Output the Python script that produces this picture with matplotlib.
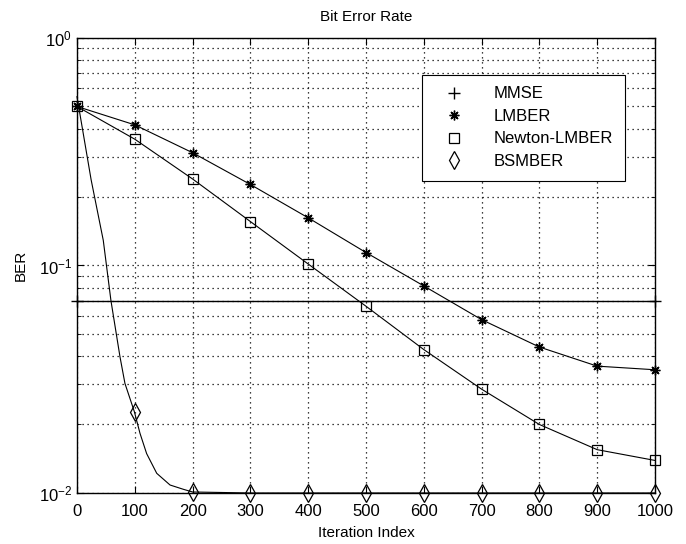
import numpy as np
import matplotlib
matplotlib.use("Agg")
from matplotlib import pyplot as plt
from matplotlib.lines import Line2D
from matplotlib.ticker import LogLocator, NullFormatter

plt.rcParams['font.family'] = ['Liberation Sans', 'DejaVu Sans']
plt.rcParams['mathtext.fontset'] = 'custom'
plt.rcParams['mathtext.rm'] = 'Liberation Sans'

# values
iters = [0, 100, 200, 300, 400, 500, 600, 700, 800, 900, 1000]
mmse_x = [0, 1000]
mmse_ber = [0.070, 0.070]
lmber_ber = [0.50, 0.415, 0.313, 0.227, 0.162, 0.114, 0.0813, 0.0578, 0.0438, 0.0361, 0.0348]
newton_ber = [0.50, 0.359, 0.240, 0.156, 0.1015, 0.0662, 0.0427, 0.0286, 0.020, 0.0155, 0.0139]
# BSMBER curve (extra points), markers only every 100
bs_x = [0, 24.5, 45.5, 58.8, 74.4, 83, 99.2, 109, 120.5, 138, 161, 184, 200,
        300, 400, 500, 600, 700, 800, 900, 1000]
bs_ber = [0.552, 0.238, 0.129, 0.070, 0.0397, 0.0303, 0.0228, 0.0183, 0.0149, 0.0122,
          0.01084, 0.01038, 0.0101, 0.0100, 0.0100, 0.0100, 0.0100, 0.0100, 0.0100,
          0.0100, 0.0100]
bs_mark_x = [100, 200, 300, 400, 500, 600, 700, 800, 900, 1000]
bs_mark_ber = [0.0228, 0.0101, 0.0100, 0.0100, 0.0100, 0.0100, 0.0100, 0.0100, 0.0100, 0.0100]

fig = plt.figure(figsize=(6.86, 5.44), dpi=100)
ax = fig.add_axes([0.1122, 0.0938, 0.8426, 0.8364])

lw = 0.8
star = (8, 2, 0)  # matlab style asterisk
mk_plus = dict(marker='+', ms=9, mew=1.0)
mk_star = dict(marker=star, ms=7, mew=1.0)
mk_sq = dict(marker='s', ms=7.5, mfc='none', mew=0.9)
mk_dia = dict(marker='d', ms=9, mfc='none', mew=0.9)

ax.plot(mmse_x, mmse_ber, 'k-', lw=1.0, clip_on=False, **mk_plus)
ax.plot(iters, lmber_ber, 'k-', lw=lw, clip_on=False, **mk_star)
ax.plot(iters, newton_ber, 'k-', lw=lw, clip_on=False, **mk_sq)
ax.plot(bs_x, bs_ber, 'k-', lw=lw, clip_on=False)
ax.plot(bs_mark_x, bs_mark_ber, 'k', ls='none', clip_on=False, **mk_dia)

ax.set_yscale('log')
ax.set_xlim(0, 1000)
ax.set_ylim(1e-2, 1e0)
ax.set_xticks(np.arange(0, 1001, 100))
ax.yaxis.set_major_locator(LogLocator(base=10))
ax.yaxis.set_minor_locator(LogLocator(base=10, subs=np.arange(2, 10)))
ax.yaxis.set_minor_formatter(NullFormatter())

dots = (0, (1, 3))
ax.grid(True, which='major', ls=dots, color='k', lw=0.9)
ax.grid(True, which='minor', axis='y', ls=dots, color='k', lw=0.9)
ax.tick_params(which='both', direction='in', top=True, right=True, labelsize=12)
ax.tick_params(which='major', length=5)
ax.tick_params(which='minor', length=3)
ax.tick_params(axis='x', pad=8)
for s in ax.spines.values():
    s.set_linewidth(1.0)

ax.set_title('Bit Error Rate', fontsize=11, pad=12)
ax.set_xlabel('Iteration Index', fontsize=11, labelpad=5)
ax.set_ylabel('BER', fontsize=11, labelpad=8)

# legend shows markers only, like the original
handles = [Line2D([], [], color='k', ls='none', **mk_plus),
           Line2D([], [], color='k', ls='none', **mk_star),
           Line2D([], [], color='k', ls='none', **mk_sq),
           Line2D([], [], color='k', ls='none', **mk_dia)]
labels = ['MMSE', 'LMBER', 'Newton-LMBER', 'BSMBER']
leg = ax.legend(handles, labels, loc='upper right', bbox_to_anchor=(0.948, 0.919),
                fontsize=12, fancybox=False, edgecolor='k', framealpha=1,
                borderpad=0.7, handlelength=2.4, handletextpad=1.2, labelspacing=0.45,
                borderaxespad=0)
leg.get_frame().set_linewidth(0.8)

fig.savefig('out.png', dpi=100)
